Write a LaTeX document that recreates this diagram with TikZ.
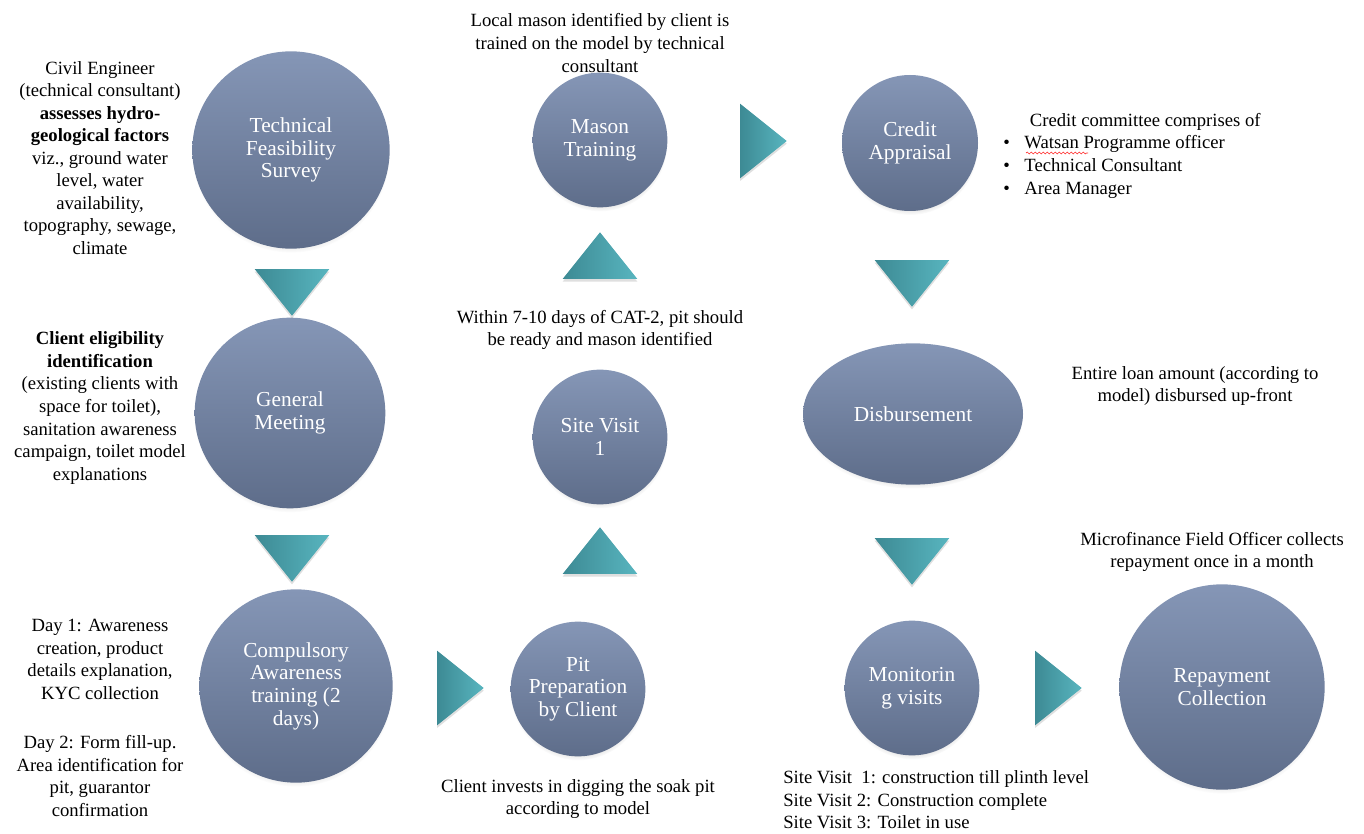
\documentclass[tikz,border=0pt]{standalone}
\usepackage{fontspec}
\setmainfont{Liberation Serif}
\usetikzlibrary{shapes.geometric, shadows, positioning, calc, decorations.pathmorphing}

\definecolor{stageTop}{HTML}{8596B6}
\definecolor{stageBottom}{HTML}{5E6D8A}
\definecolor{flowDark}{HTML}{3D8A94}
\definecolor{flowLight}{HTML}{58B5BF}

\begin{document}
\begin{tikzpicture}[
    x=0.75pt, y=-0.75pt,
    stage/.style={
        circle, top color=stageTop, bottom color=stageBottom, draw=none,
        align=center, text=white, inner sep=0pt,
        font=\fontsize{16}{17}\selectfont,
        circular drop shadow={shadow xshift=0pt, shadow yshift=-3pt, opacity=0.35, shadow scale=1}
    },
    flow/.style={
        isosceles triangle, isosceles triangle stretches,
        minimum width=56pt, minimum height=35pt, inner sep=0pt,
        left color=flowDark, right color=flowLight, draw=none,
        drop shadow={shadow xshift=0pt, shadow yshift=-2pt, opacity=0.25}
    },
    note/.style={align=center, inner sep=0pt, font=\fontsize{14}{16.9}\selectfont},
    spellmark/.style={red!80, line width=0.5pt, decorate,
        decoration={snake, amplitude=0.7pt, segment length=3pt}}
]
\useasboundingbox (0,0) rectangle (1364,834);

% 1. Stages of the process
\node[stage, minimum size=148pt] (survey) at (291,150) {Technical\\Feasibility\\Survey};
\node[stage, minimum size=143pt] (meeting) at (290,413) {General\\Meeting};
\node[stage, minimum size=145pt] (training) at (296,686) {Compulsory\\Awareness\\training (2\\days)};
\node[stage, minimum size=101pt] (pit) at (578,689) {Pit\\Preparation\\by Client};
\node[stage, minimum size=101pt] (visit) at (600,437) {Site Visit\\1};
\node[stage, minimum size=101pt] (mason) at (600,140) {Mason\\Training};
\node[stage, minimum size=102pt] (credit) at (910,143) {Credit\\Appraisal};
\node[stage, ellipse, minimum width=165pt, minimum height=106pt] (disburse) at (913,414) {Disbursement};
\node[stage, minimum size=101pt] (monitor) at (912,688) {Monitorin\\g visits};
\node[stage, minimum size=154pt] (repay) at (1222,687) {Repayment\\Collection};

% 2. Flow arrows (triangles)
\node[flow, rotate=-90] (down1) at (292,287) {};
\node[flow, rotate=-90] (down2) at (292,553) {};
\node[flow] (right1) at (455,688) {};
\node[flow, rotate=90] (up1) at (600,556) {};
\node[flow, rotate=90] (up2) at (600,261) {};
\node[flow] (right2) at (758,141) {};
\node[flow, rotate=-90] (down3) at (912,278) {};
\node[flow, rotate=-90] (down4) at (912,556) {};
\node[flow] (right3) at (1053,688) {};

% 3. Notes beside the stages
\node[note] (surveynote) at (100,158) {Civil Engineer\\(technical consultant)\\\textbf{assesses hydro-}\\\textbf{geological factors}\\viz., ground water\\level, water\\availability,\\topography, sewage,\\climate};
\node[note] (meetingnote) at (100,408) {\textbf{Client eligibility}\\\textbf{identification}\\(existing clients with\\space for toilet),\\sanitation awareness\\campaign, toilet model\\explanations};
\node[note] (trainingnote) at (100,718) {Day 1: Awareness\\creation, product\\details explanation,\\KYC collection\\[20pt]Day 2: Form fill-up.\\Area identification for\\pit, guarantor\\confirmation};
\node[note] (masonnote) at (600,43) {Local mason identified by client is\\trained on the model by technical\\consultant};
\node[note] (visitnote) at (600,330) {Within 7-10 days of CAT-2, pit should\\be ready and mason identified};
\node[note] (pitnote) at (578,799) {Client invests in digging the soak pit\\according to model};
\node[note, align=left, anchor=north west] (creditnote) at (1003,113) {\hspace*{20pt}Credit committee comprises of\\\textbullet\hspace{11pt}Watsan Programme officer\\\textbullet\hspace{11pt}Technical Consultant\\\textbullet\hspace{11pt}Area Manager};
\node[note] (disbursenote) at (1195,386) {Entire loan amount (according to\\model) disbursed up-front};
\node[note] (repaynote) at (1212,552) {Microfinance Field Officer collects\\repayment once in a month};
\node[note, align=left, anchor=west] (monitornote) at (783,800) {Site Visit\ \ 1: construction till plinth level\\Site Visit 2: Construction complete\\Site Visit 3: Toilet in use};

% spell-check mark under "Watsan"
\draw[spellmark] ($(creditnote.north west)+(23,40)$) -- ++(62,0);

\end{tikzpicture}
\end{document}
